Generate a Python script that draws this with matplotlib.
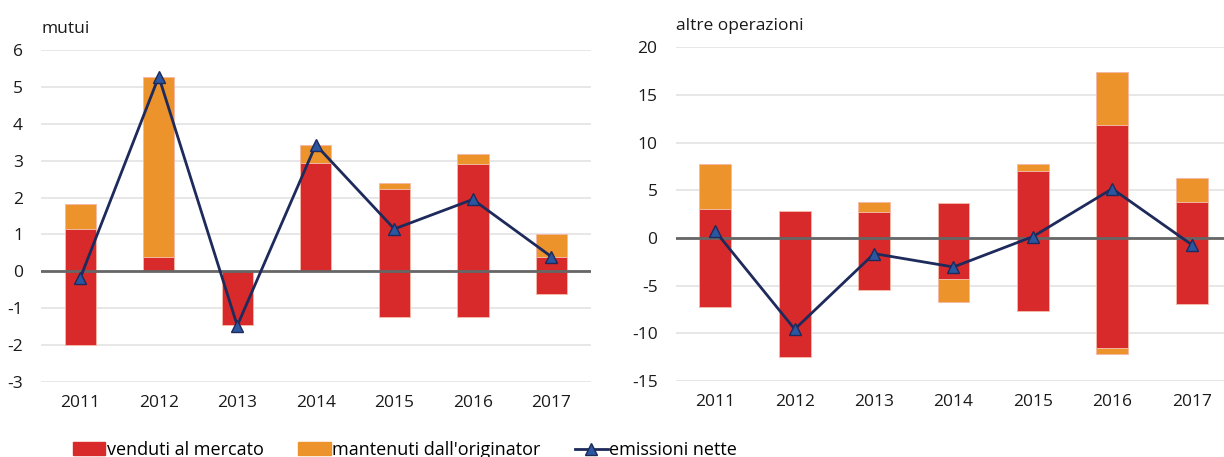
import matplotlib
matplotlib.use('Agg')
import matplotlib.pyplot as plt
from matplotlib.patches import Patch
from matplotlib.lines import Line2D
import numpy as np

anni = ['2011', '2012', '2013', '2014', '2015', '2016', '2017']

# mutui
mutui_venduti_pos = [1.15, 0.40, 0.0, 2.93, 2.23, 2.90, 0.38]
mutui_mantenuti_pos = [0.68, 4.88, 0.0, 0.50, 0.17, 0.28, 0.64]
mutui_venduti_neg = [-2.0, 0.0, -1.45, 0.0, -1.25, -1.25, -0.62]
mutui_mantenuti_neg = [0.0, 0.0, 0.0, 0.0, 0.0, 0.0, 0.0]
mutui_nette = [-0.18, 5.28, -1.47, 3.43, 1.15, 1.95, 0.40]

# altre operazioni
altre_venduti_pos = [3.0, 2.86, 2.7, 3.66, 7.05, 11.85, 3.75]
altre_mantenuti_pos = [4.8, 0.0, 1.05, 0.0, 0.7, 5.55, 2.5]
altre_venduti_neg = [-7.2, -12.5, -5.4, -4.33, -7.6, -11.55, -6.94]
altre_mantenuti_neg = [0.0, 0.0, 0.0, -2.4, 0.0, -0.65, 0.0]
altre_nette = [0.7, -9.56, -1.64, -3.04, 0.14, 5.16, -0.7]

ROSSO = '#d92a2b'
ARANCIO = '#ec932b'
BLU = '#1d2a5b'
BLU_MARKER = '#2b56a0'

plt.rcParams['font.family'] = ['Open Sans', 'DejaVu Sans']
plt.rcParams['font.size'] = 12


def pannello(ax, titolo, vp, mp, vn, mn, nette, ylim, yticks, xlim):
    x = np.arange(len(anni))
    w = 0.4
    # barre con un bordino chiaro come nell'originale
    kw = dict(linewidth=0.6, edgecolor='#f4b8a8', zorder=2)
    ax.bar(x, vp, w, color=ROSSO, **kw)
    ax.bar(x, mp, w, bottom=vp, color=ARANCIO, **kw)
    ax.bar(x, vn, w, color=ROSSO, **kw)
    ax.bar(x, mn, w, bottom=vn, color=ARANCIO, **kw)
    ax.axhline(0, color='#666666', linewidth=2, zorder=3)
    ax.plot(x, nette, color=BLU, linewidth=2, marker='^', markersize=8.5,
            markerfacecolor=BLU_MARKER, markeredgecolor=BLU, markeredgewidth=1, zorder=4)
    ax.set_ylim(*ylim)
    ax.set_yticks(yticks)
    ax.set_yticklabels(['{:d}'.format(t) for t in yticks])
    ax.set_xlim(*xlim)
    ax.set_xticks(x)
    ax.set_xticklabels(anni)
    ax.grid(axis='y', color='#e3e3e3', linewidth=1.2, zorder=0)
    ax.set_axisbelow(True)
    for s in ax.spines.values():
        s.set_visible(False)
    ax.tick_params(axis='both', length=0, labelsize=12.5, colors='#1a1a1a')
    ax.tick_params(axis='y', pad=13)
    ax.tick_params(axis='x', pad=9)
    ax.text(0.0, 1.04, titolo, transform=ax.transAxes, fontsize=12.5,
            ha='left', va='bottom', color='#1a1a1a')


fig = plt.figure(figsize=(12.24, 4.57), dpi=100)
ax1 = fig.add_axes([0.0335, 0.164, 0.449, 0.7265])
ax2 = fig.add_axes([0.552, 0.166, 0.454, 0.731])

pannello(ax1, 'mutui', mutui_venduti_pos, mutui_mantenuti_pos, mutui_venduti_neg,
         mutui_mantenuti_neg, mutui_nette, (-3, 6), list(range(-3, 7)), (-0.5, 6.5))
pannello(ax2, 'altre operazioni', altre_venduti_pos, altre_mantenuti_pos, altre_venduti_neg,
         altre_mantenuti_neg, altre_nette, (-15, 20), list(range(-15, 21, 5)), (-0.5, 6.5))

handles = [Patch(color=ROSSO), Patch(color=ARANCIO),
           Line2D([], [], color=BLU, linewidth=2, marker='^', markersize=8,
                  markerfacecolor=BLU_MARKER, markeredgecolor=BLU)]
labels = ['venduti al mercato', "mantenuti dall'originator", 'emissioni nette']
fig.legend(handles, labels, loc='lower left', bbox_to_anchor=(0.046, -0.04), ncol=3,
           frameon=False, fontsize=13, handlelength=1.8, handletextpad=0.1,
           columnspacing=1.9)

fig.savefig('out.png', dpi=100)
